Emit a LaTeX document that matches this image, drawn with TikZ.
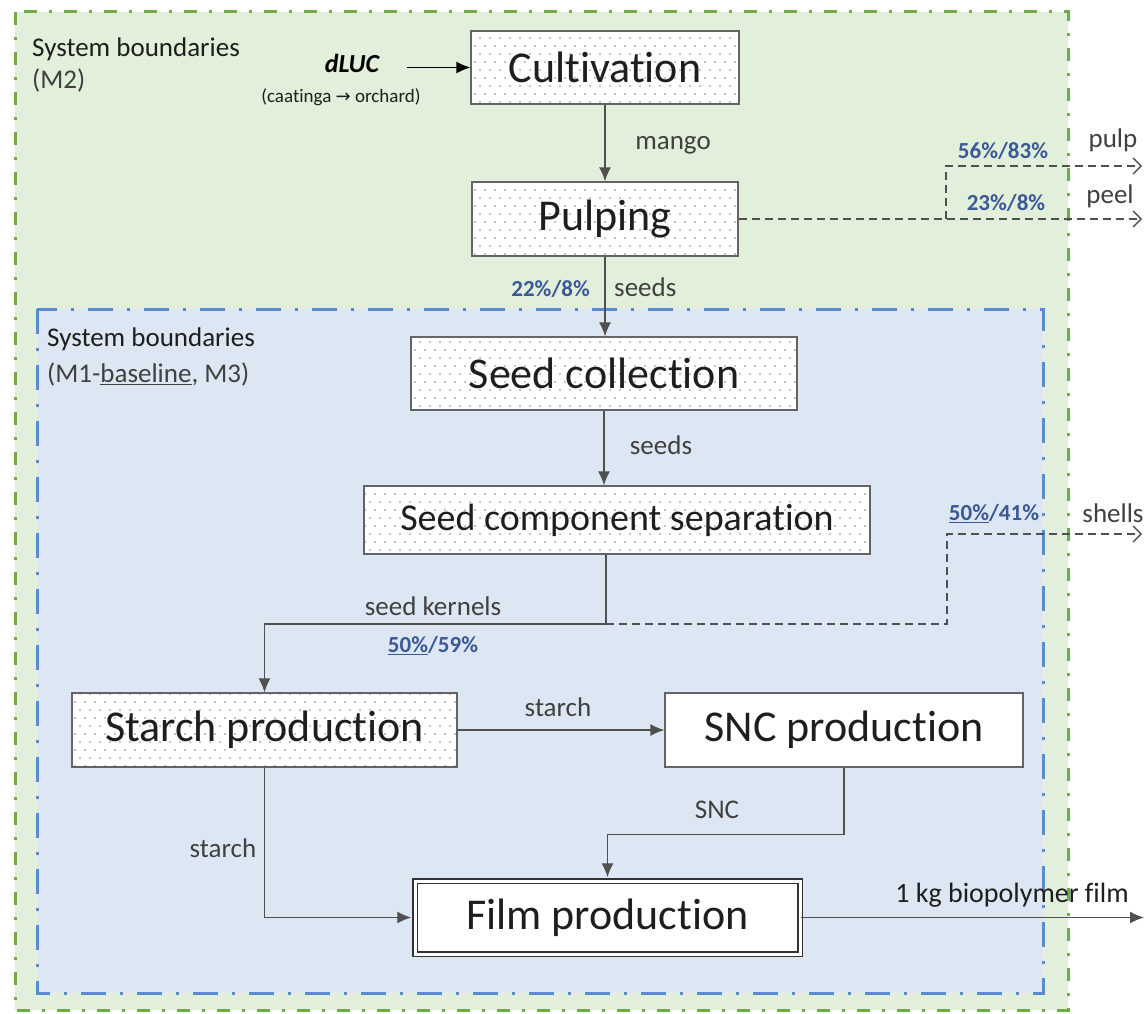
\documentclass[tikz,border=0pt]{standalone}
\usepackage{fontspec}
\setmainfont{Carlito}[Ligatures=NoCommon]
\newfontfamily\symfont{DejaVu Sans}
\usetikzlibrary{arrows.meta,patterns.meta}

\definecolor{greenfill}{RGB}{226,239,218}
\definecolor{greenline}{RGB}{112,173,71}
\definecolor{bluefill}{RGB}{221,231,243}
\definecolor{blueline}{RGB}{91,139,206}
\definecolor{linegray}{RGB}{80,80,80}
\definecolor{boxgray}{RGB}{100,100,100}
\definecolor{labelgray}{RGB}{64,64,64}
\definecolor{textdark}{RGB}{30,30,30}
\definecolor{pctblue}{RGB}{59,89,152}
\definecolor{dotgray}{RGB}{140,140,140}

% sparse staggered dot fill for the process boxes
\tikzdeclarepattern{
  name=sparsedots,
  type=uncolored,
  bottom left={(-1pt,-1pt)},
  top right={(9pt,15pt)},
  tile size={(10pt,16pt)},
  code={
    \fill (0pt,0pt) circle (0.8pt);
    \fill (5pt,8pt) circle (0.8pt);
  }
}

\tikzset{
  procbox/.style={draw=boxgray, line width=1.3pt, minimum height=73pt,
    font=\fontsize{44}{48}\selectfont, text=textdark, inner sep=0pt},
  dotbox/.style={procbox, preaction={fill=white}, pattern=sparsedots, pattern color=dotgray},
  plainbox/.style={procbox, fill=white},
  filmbox/.style={procbox, fill=white, draw=black!80, line width=1.5pt,
    double=white, double distance=3pt},
  flowline/.style={draw=linegray, line width=1.4pt},
  flow/.style={flowline, -{Latex[length=14pt,width=12pt]}},
  outflow/.style={flowline, dash pattern=on 8pt off 5pt,
    -{Straight Barb[length=8pt,width=16pt]}},
  greenbound/.style={draw=greenline, line width=3pt,
    dash pattern=on 13pt off 12pt on 3pt off 12pt},
  bluebound/.style={draw=blueline, line width=3pt,
    dash pattern=on 25pt off 14pt on 3pt off 14pt},
  lbl/.style={font=\fontsize{27}{30}\selectfont, text=labelgray, inner sep=0pt},
  pct/.style={font=\fontsize{23}{26}\selectfont\bfseries, text=pctblue, inner sep=0pt},
}

\begin{document}
\begin{tikzpicture}[x=1pt,y=-1pt]
\useasboundingbox (0,0) rectangle (1144,1014);
\fill[white] (0,0) rectangle (1144,1014);

% system boundaries
\fill[greenfill] (15,12) rectangle (1068,1010);
\fill[bluefill] (37,309) rectangle (1043,993);
\draw[greenbound] (15,12) rectangle (1068,1010);
\draw[bluebound] (37,309) rectangle (1043,993);

\node[lbl, anchor=mid west, text=textdark] (sbA1) at (32,54) {System boundaries};
\node[lbl, anchor=mid west, text=labelgray] (sbA2) at (32,86) {(M2)};
\node[lbl, anchor=mid west, text=textdark] (sbB1) at (47,344) {System boundaries};
\node[lbl, anchor=mid west, text=labelgray] (sbB2) at (47,380) {(M1-\underline{baseline}, M3)};

% process boxes
\node[dotbox, minimum width=268pt] (cult) at (605,67.5) {Cultivation};
\node[dotbox, minimum width=266pt, minimum height=74pt] (pulp) at (605,219) {Pulping};
\node[dotbox, minimum width=386pt] (seedcol) at (604,373.5) {Seed collection};
\node[dotbox, minimum width=506pt, minimum height=68pt,
      font=\fontsize{38}{42}\selectfont] (sep) at (617,520) {Seed component separation};
\node[dotbox, minimum width=385pt, minimum height=74pt] (starch) at (264.5,730) {Starch production};
\node[plainbox, minimum width=358pt, minimum height=74pt] (snc) at (844,730) {SNC production};
\node[filmbox, minimum width=385pt, minimum height=73pt] (film) at (607.5,917.5) {Film production};

% land use change input
\node[font=\fontsize{26}{28}\selectfont\bfseries\itshape, text=black, inner sep=0pt] (dluc) at (352,63) {dLUC};
\node[font=\fontsize{19}{21}\selectfont, text=textdark, inner sep=0pt] (dlucsub) at (341,97)
  {(caatinga {\symfont\fontsize{18}{20}\selectfont →} orchard)};

% connector end points
\coordinate (lucsrc) at (407,67.5);
\coordinate (kj) at (606,624);
\coordinate (shellturn) at (947,624);
\coordinate (shellend) at (1142,534);
\coordinate (pulpfork) at (946,219);
\coordinate (pulpend) at (1142,166);
\coordinate (peelend) at (1142,219);
\coordinate (filmend) at (1144,917.5);

% flows
\draw[flow, draw=black] (lucsrc) -- (cult.west);
\draw[flow] (cult.south) -- (cult.south |- pulp.north);
\draw[flow] (pulp.south) -- (pulp.south |- seedcol.north);
\draw[flow] (seedcol.south) -- (seedcol.south |- sep.north);
\draw[flowline] (sep.south -| kj) -- (kj);
\draw[flow] (kj) -| (starch.north);
\draw[outflow] (kj) -- (shellturn) |- (shellend);
\draw[outflow] (pulp.east) -- (peelend);
\draw[outflow] (pulpfork) |- (pulpend);
\draw[flow] (starch.east) -- (snc.west);
\draw[flow, shorten >=3pt] (starch.south) |- (film.west);
\draw[flow, shorten >=3pt] (snc.south) -- ++(0,67) -| (film.north);
\draw[flow] (film.east) -- (filmend);

% flow labels
\node[lbl] (lmango) at (673,145) {mango};
\node[pct, anchor=mid east] (lp1) at (590,294) {22\%/8\%};
\node[lbl, anchor=mid west] (lseeds1) at (614,294) {seeds};
\node[lbl] (lseeds2) at (661,445) {seeds};
\node[lbl] (lkern) at (433,606) {seed kernels};
\node[pct] (lp2) at (433,646) {\underline{50\%}/59\%};
\node[pct] (lp3) at (994,514) {\underline{50\%}/41\%};
\node[lbl] (lshell) at (1113,513) {shells};
\node[pct] (lp4) at (1003,151) {56\%/83\%};
\node[lbl] (lpulp) at (1113,140) {pulp};
\node[pct] (lp5) at (1006,203) {23\%/8\%};
\node[lbl] (lpeel) at (1110,196) {peel};
\node[lbl] (lstarch1) at (558,707) {starch};
\node[lbl] (lstarch2) at (223,848) {starch};
\node[lbl] (lsnc) at (717,810) {SNC};
\node[lbl, font=\fontsize{28}{30}\selectfont, text=textdark] (lfilm) at (1012,895) {1 kg biopolymer film};
\end{tikzpicture}
\end{document}
